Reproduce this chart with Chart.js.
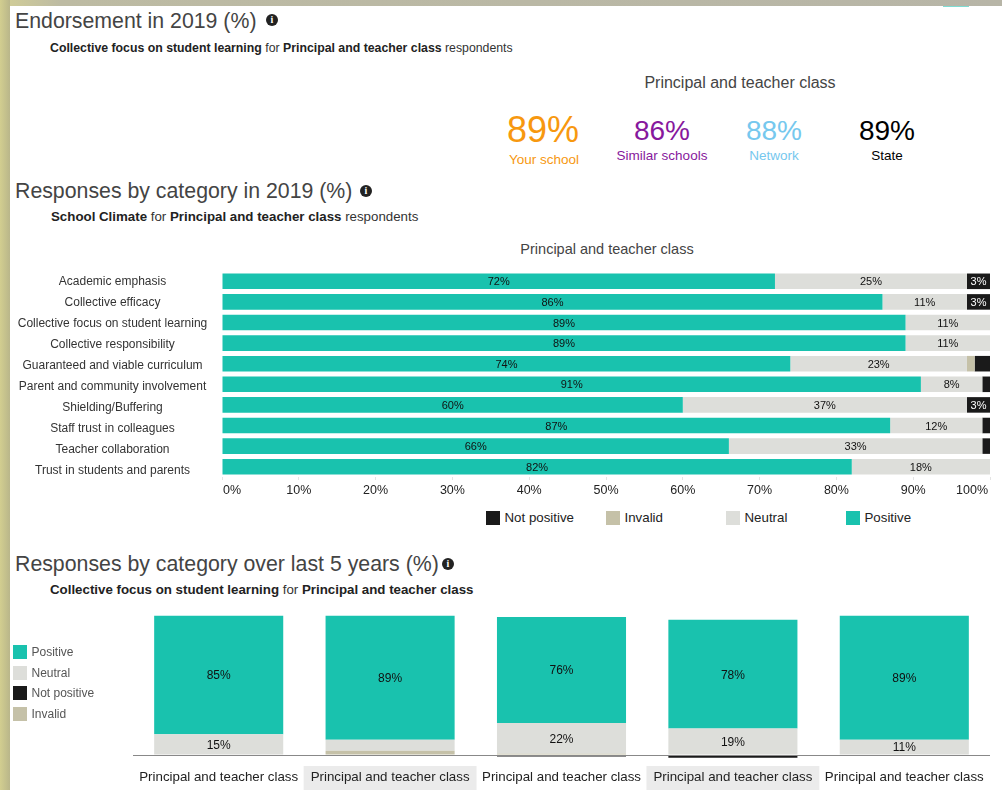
<!DOCTYPE html>
<html>
<head>
<meta charset="utf-8">
<title>School climate survey</title>
<script src="https://cdn.jsdelivr.net/npm/chart.js@4"></script>
<style>
  html, body { margin: 0; padding: 0; background: #fff; overflow: hidden; }
  body { width: 1002px; height: 790px; position: relative; font-family: "Liberation Sans", Arial, sans-serif; color: #333; }
  .abs { position: absolute; white-space: nowrap; }
  #edgeTop { left: 0; top: 0; width: 1002px; height: 6px; background: linear-gradient(90deg, #d3cf96 0, #bdbba3 60px, #b7b5a7 100%); }
  #edgeLeft { left: 0; top: 0; width: 10px; height: 790px; background: linear-gradient(90deg, #d2ce90, #b9b68a); }
  #tab { left: 943px; top: 6px; width: 26px; height: 1px; background: #7fdcd2; }
  .heading { font-size: 21.3px; line-height: 24px; color: #444; }
  .sub { font-size: 13.3px; line-height: 16px; color: #333; }
  .sub b { color: #222; }
  .info { width: 12px; height: 12px; border-radius: 50%; background: #222; color: #fff; font: bold 10px/12px "Liberation Serif", serif; text-align: center; }
  .stat { text-align: center; transform: translateX(-50%); }
  .swatch { width: 14px; height: 14px; }
  .key { line-height: 14px; }
  canvas { position: absolute; }
</style>
</head>
<body>
<div class="abs" id="edgeTop"></div>
<div class="abs" id="edgeLeft"></div>
<div class="abs" id="tab"></div>

<div class="abs heading" style="left:15px;top:9px">Endorsement in 2019 (%)</div>
<div class="abs info" style="left:266px;top:14px">i</div>
<div class="abs sub" style="left:50px;top:40px;font-size:12.3px"><b>Collective focus on student learning</b> for <b>Principal and teacher class</b> respondents</div>

<div class="abs stat" style="left:740px;top:74px;font-size:16px;line-height:18px;color:#444">Principal and teacher class</div>
<div id="stats"></div>

<div class="abs heading" style="left:15px;top:179px">Responses by category in 2019 (%)</div>
<div class="abs info" style="left:360px;top:185px">i</div>
<div class="abs sub" style="left:51px;top:209px"><b>School Climate</b> for <b>Principal and teacher class</b> respondents</div>
<div class="abs stat" style="left:607px;top:241px;font-size:14.5px;line-height:16px;color:#444">Principal and teacher class</div>

<canvas id="categoryChart" width="1002" height="245" style="left:0;top:265px;width:1002px;height:245px"></canvas>
<div id="categoryLegend"></div>

<div class="abs heading" style="left:15px;top:552px">Responses by category over last 5 years (%)</div>
<div class="abs info" style="left:442px;top:558px">i</div>
<div class="abs sub" style="left:50px;top:582px"><b>Collective focus on student learning</b> for <b>Principal and teacher class</b></div>

<canvas id="trendChart" width="1002" height="190" style="left:0;top:600px;width:1002px;height:190px"></canvas>
<div id="trendLegend"></div>

<script>
'use strict';

const FONT = '"Liberation Sans", Arial, sans-serif';

// colours for each response type
const TEAL = '#19c2ae';
const GREY = '#dddeda';
const TAN = '#c5c1a8';
const DARK = '#1a1a1a';

// endorsement figures
const statNames = ['Your school', 'Similar schools', 'Network', 'State'];
const statValues = [89, 86, 88, 89];
const statColors = ['#f7980f', '#87189d', '#76c8ee', '#000000'];

// responses by category, 2019
const categories = [
  'Academic emphasis',
  'Collective efficacy',
  'Collective focus on student learning',
  'Collective responsibility',
  'Guaranteed and viable curriculum',
  'Parent and community involvement',
  'Shielding/Buffering',
  'Staff trust in colleagues',
  'Teacher collaboration',
  'Trust in students and parents'
];
const positive = [72, 86, 89, 89, 74, 91, 60, 87, 66, 82];
const neutral = [25, 11, 11, 11, 23, 8, 37, 12, 33, 18];
const invalid = [0, 0, 0, 0, 1, 0, 0, 0, 0, 0];
const notPositive = [3, 3, 0, 0, 2, 1, 3, 1, 1, 0];

// responses over the last five years
const years = [
  'Principal and teacher class',
  'Principal and teacher class',
  'Principal and teacher class',
  'Principal and teacher class',
  'Principal and teacher class'
];
const trendPositive = [85, 89, 76, 78, 89];
const trendNeutral = [15, 8, 22, 19, 11];
const trendInvalid = [0, 3, 1, 0, 0];
const trendNotPositive = [0, 0, -1, -2, 0];

// the big numbers at the top
let statsBox = document.getElementById('stats');
let statX = [543, 662, 774, 887];
for (let i = 0; i < statNames.length; i++) {
  let big = i === 0 ? 36 : 28;
  let num = document.createElement('div');
  num.className = 'abs stat';
  num.style.cssText = `left:${statX[i]}px;top:${i === 0 ? 109 : 114}px;font-size:${big}px;line-height:${big + 6}px;color:${statColors[i]}`;
  num.textContent = statValues[i] + '%';
  statsBox.appendChild(num);
  let name = document.createElement('div');
  name.className = 'abs stat';
  name.style.cssText = `left:${statX[i] + (i === 0 ? 1 : 0)}px;top:${i === 0 ? 152 : 148}px;font-size:13.5px;line-height:16px;color:${statColors[i]}`;
  name.textContent = statNames[i];
  statsBox.appendChild(name);
}

function addKey(box, label, color, swatchX, swatchY, textColor, size) {
  let swatch = document.createElement('div');
  swatch.className = 'abs swatch';
  swatch.style.cssText = `left:${swatchX}px;top:${swatchY}px;background:${color}`;
  box.appendChild(swatch);
  let text = document.createElement('div');
  text.className = 'abs key';
  text.style.cssText = `left:${swatchX + 18.5}px;top:${swatchY}px;color:${textColor};font-size:${size}px`;
  text.textContent = label;
  box.appendChild(text);
}

let catLegend = document.getElementById('categoryLegend');
addKey(catLegend, 'Not positive', DARK, 486, 511, '#222', 13.3);
addKey(catLegend, 'Invalid', TAN, 606, 511, '#222', 13.3);
addKey(catLegend, 'Neutral', GREY, 726, 511, '#222', 13.3);
addKey(catLegend, 'Positive', TEAL, 846, 511, '#222', 13.3);

let trendLegend = document.getElementById('trendLegend');
addKey(trendLegend, 'Positive', TEAL, 13, 645, '#555', 12);
addKey(trendLegend, 'Neutral', GREY, 13, 666, '#555', 12);
addKey(trendLegend, 'Not positive', DARK, 13, 686, '#555', 12);
addKey(trendLegend, 'Invalid', TAN, 13, 707, '#555', 12);

// writes the percentage in the middle of each segment big enough to hold it
const segmentLabels = {
  id: 'segmentLabels',
  afterDatasetsDraw(chart, args, opts) {
    let ctx = chart.ctx;
    ctx.save();
    ctx.font = `${opts.size}px ${FONT}`;
    ctx.textAlign = 'center';
    ctx.textBaseline = 'middle';
    chart.data.datasets.forEach((ds, d) => {
      chart.getDatasetMeta(d).data.forEach((bar, i) => {
        let v = ds.data[i];
        if (v < opts.min) return;
        let c = bar.getCenterPoint();
        ctx.fillStyle = ds.backgroundColor === DARK ? '#fff' : '#111';
        ctx.fillText(v + '%', c.x, c.y + 1);
      });
    });
    ctx.restore();
  }
};

// axis labels for the category chart: percentages with the end ones kept
// inside the plot width, and row names on a slightly wider step than the bars
const rowStepExtra = 0.45;
const edgeTicks = {
  id: 'edgeTicks',
  afterDraw(chart) {
    let scale = chart.scales.x;
    let yScale = chart.scales.y;
    let ctx = chart.ctx;
    let last = scale.ticks.length - 1;
    ctx.save();
    ctx.font = `12.5px ${FONT}`;
    ctx.fillStyle = '#222';
    ctx.textBaseline = 'middle';
    scale.ticks.forEach((tick, i) => {
      let x = scale.getPixelForValue(tick.value);
      ctx.textAlign = i === 0 ? 'left' : i === last ? 'right' : 'center';
      if (i === 0) x += 1;
      if (i === last) x -= 2;
      ctx.fillText(tick.value + '%', x, chart.chartArea.bottom + 14);
    });
    ctx.font = `12px ${FONT}`;
    ctx.fillStyle = '#333';
    ctx.textAlign = 'center';
    chart.data.labels.forEach((name, i) => {
      ctx.fillText(name, 112.5, yScale.getPixelForTick(i) + i * rowStepExtra);
    });
    ctx.restore();
  }
};

function stack(label, data, color) {
  return { label: label, data: data, backgroundColor: color, borderWidth: 0 };
}

new Chart(document.getElementById('categoryChart'), {
  type: 'bar',
  data: {
    labels: categories,
    datasets: [
      stack('Positive', positive, TEAL),
      stack('Neutral', neutral, GREY),
      stack('Invalid', invalid, TAN),
      stack('Not positive', notPositive, DARK)
    ]
  },
  options: {
    indexAxis: 'y',
    responsive: false,
    animation: false,
    layout: { padding: { top: 6, right: 12, left: 0, bottom: 0 } },
    scales: {
      x: {
        stacked: true,
        min: 0,
        max: 100,
        ticks: { display: false, stepSize: 10 },
        grid: { drawOnChartArea: false, drawTicks: true, tickLength: 3, color: '#e4e4e4' },
        border: { display: false },
        afterFit(scale) { scale.height = 33; }
      },
      y: {
        stacked: true,
        ticks: { display: false, autoSkip: false },
        grid: { display: false, drawTicks: false },
        border: { display: false },
        afterFit(scale) {
          scale.width = 222;
          scale.paddingTop = 0;
          scale.paddingBottom = 0;
        }
      }
    },
    datasets: { bar: { barPercentage: 1, categoryPercentage: 0.755 } },
    plugins: {
      legend: { display: false },
      tooltip: { enabled: false },
      segmentLabels: { size: 11, min: 3 }
    }
  },
  plugins: [segmentLabels, edgeTicks]
});

new Chart(document.getElementById('trendChart'), {
  type: 'bar',
  data: {
    labels: years,
    datasets: [
      stack('Not positive', trendNotPositive, DARK),
      stack('Invalid', trendInvalid, TAN),
      stack('Neutral', trendNeutral, GREY),
      stack('Positive', trendPositive, TEAL)
    ]
  },
  options: {
    responsive: false,
    animation: false,
    layout: { padding: { top: 8.7, right: 12, left: 0, bottom: 0 } },
    scales: {
      x: {
        stacked: true,
        ticks: {
          color: '#222',
          font: { family: FONT, size: 13.3 },
          autoSkip: false,
          maxRotation: 0,
          padding: 7,
          showLabelBackdrop: (ctx) => ctx.index % 2 === 1,
          backdropColor: '#ebebeb',
          backdropPadding: { left: 7, right: 7, top: 3, bottom: 5 }
        },
        grid: { display: false, drawTicks: false },
        border: { display: false },
        afterFit(scale) { scale.height = 28; }
      },
      y: {
        stacked: true,
        min: -5,
        max: 105,
        ticks: { display: false, stepSize: 5 },
        // only the zero line is visible, it is the baseline of the columns
        grid: {
          drawTicks: false,
          color: (ctx) => ctx.tick.value === 0 ? '#888888' : 'rgba(0,0,0,0)',
          lineWidth: 1,
          z: 1
        },
        border: { display: false },
        afterFit(scale) { scale.width = 133; }
      }
    },
    datasets: { bar: { barPercentage: 1, categoryPercentage: 0.753 } },
    plugins: {
      legend: { display: false },
      tooltip: { enabled: false },
      segmentLabels: { size: 12, min: 10 }
    }
  },
  plugins: [segmentLabels]
});
</script>
</body>
</html>
